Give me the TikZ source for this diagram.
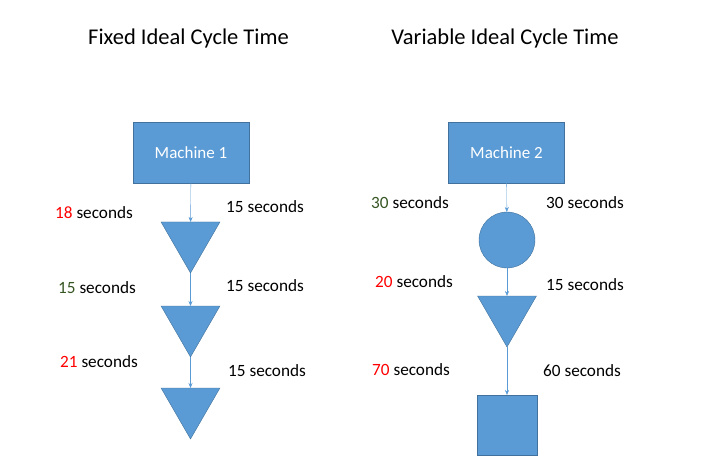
\documentclass[tikz,border=0pt]{standalone}
\usepackage{fontspec}
\setmainfont{Carlito}
\usetikzlibrary{shapes.geometric,arrows.meta}
\definecolor{boxblue}{HTML}{5B9BD5}
\definecolor{boxedge}{HTML}{41719C}
\definecolor{darkgreen}{HTML}{375623}
\definecolor{lossred}{HTML}{FF0000}

\begin{document}
\begin{tikzpicture}[x=1pt,y=-1pt,
	>={Stealth[length=5pt,width=4pt]},
	title/.style={font=\fontsize{22.5}{26}\selectfont},
	lbl/.style={anchor=west,inner sep=0pt,font=\fontsize{17.2}{20}\selectfont},
	machine/.style={draw=boxedge,fill=boxblue,text=white,minimum width=116pt,minimum height=61pt,font=\fontsize{17}{20}\selectfont},
	buffer/.style={draw=boxedge,fill=boxblue,regular polygon,regular polygon sides=3,shape border rotate=180,minimum size=68pt,inner sep=0pt,outer sep=0pt},
	wheel/.style={draw=boxedge,fill=boxblue,circle,minimum size=56pt,inner sep=0pt,outer sep=0pt},
	block/.style={draw=boxedge,fill=boxblue,rectangle,minimum size=60pt,inner sep=0pt,outer sep=0pt},
	flow/.style={->,draw=boxblue,thin}]
	\useasboundingbox (0,0) rectangle (713,476);
	% fixed ideal cycle time
	\node[title] (tfix) at (188.5,39) {Fixed Ideal Cycle Time};
	\node[machine] (m1) at (191,152.5) {Machine 1};
	\node[buffer] (a1) at (190.5,239) {};
	\node[buffer] (a2) at (190.5,323) {};
	\node[buffer] (a3) at (190.5,405) {};
	\draw [flow](m1) -- (a1);
	\draw [flow](a1) -- (a2);
	\draw [flow](a2) -- (a3);
	\node[lbl] (l1) at (55,213) {\textcolor{lossred}{18} seconds};
	\node[lbl] (l2) at (58,288) {\textcolor{darkgreen}{15} seconds};
	\node[lbl] (l3) at (60,362) {\textcolor{lossred}{21} seconds};
	\node[lbl] (r1) at (226,207) {15 seconds};
	\node[lbl] (r2) at (226,286) {15 seconds};
	\node[lbl] (r3) at (228,371) {15 seconds};
	% variable ideal cycle time
	\node[title] (tvar) at (505,39) {Variable Ideal Cycle Time};
	\node[machine] (m2) at (506.5,152.5) {Machine 2};
	\node[wheel] (b1) at (507,240) {};
	\node[buffer] (b2) at (507,313) {};
	\node[block] (b3) at (507,425) {};
	\draw [flow](m2) -- (b1);
	\draw [flow](b1) -- (b2);
	\draw [flow](b2) -- (b3);
	\node[lbl] (l4) at (371,203) {\textcolor{darkgreen}{30} seconds};
	\node[lbl] (l5) at (375,282) {\textcolor{lossred}{20} seconds};
	\node[lbl] (l6) at (372,370) {\textcolor{lossred}{70} seconds};
	\node[lbl] (r4) at (546,203) {30 seconds};
	\node[lbl] (r5) at (546,285) {15 seconds};
	\node[lbl] (r6) at (543,371) {60 seconds};
\end{tikzpicture}
\end{document}
